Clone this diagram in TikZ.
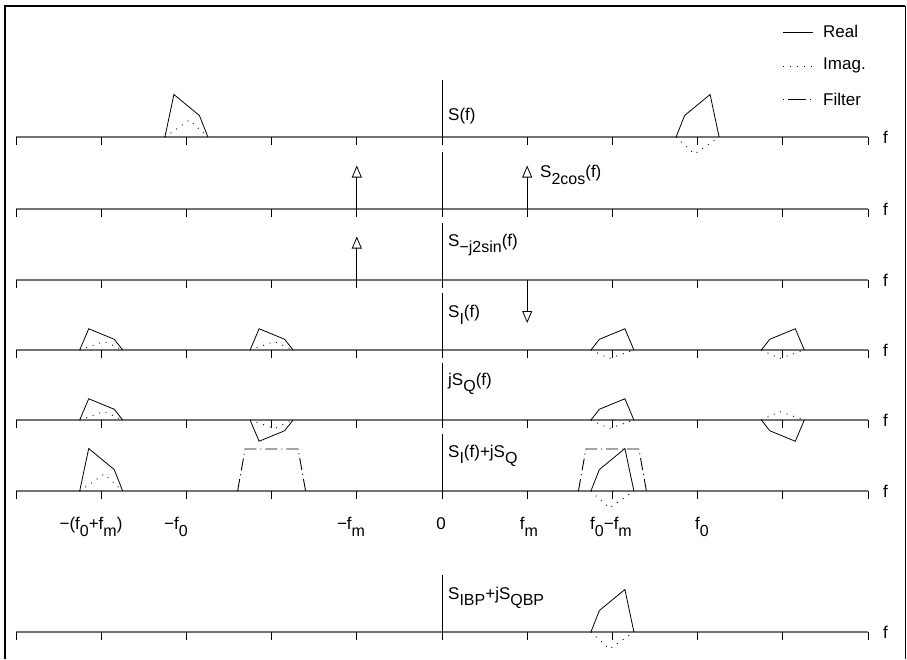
\documentclass[tikz,border=0pt]{standalone}
\usepackage{fontspec}
\setmainfont{Liberation Sans}
\usetikzlibrary{arrows.meta}
\newcommand{\sbs}[1]{\raisebox{-6.5pt}{\fontsize{16}{16}\selectfont #1}}
\newcommand{\rspec}[3]{%
  \begin{scope}[shift={(#1,#2)}, yscale=#3]
    \draw[realline] (-21.5,0) -- (-13,-21.5) -- (12.5,-42.5) -- (21.5,0);
    \draw[imagline] (-21.5,0) -- (-3,17) -- (21.5,0);
  \end{scope}}
\newcommand{\lspec}[3]{%
  \begin{scope}[shift={(#1,#2)}, yscale=#3]
    \draw[realline] (-21.5,0) -- (-12.5,-42.5) -- (13,-21.5) -- (21.5,0);
    \draw[imagline] (-21.5,0) -- (3,-17) -- (21.5,0);
  \end{scope}}
\newcommand{\filt}[2]{%
  \draw[filterline] (#1-34,#2) -- (#1-26.5,#2-42) -- (#1+26.5,#2-42) -- (#1+34,#2);}
\begin{document}
\begin{tikzpicture}[x=1pt,y=-1pt,
  font=\fontsize{17}{19}\selectfont,
  axisline/.style={draw=black!55, line width=1.2pt},
  tickline/.style={draw=black, line width=0.9pt},
  realline/.style={draw=black, line width=0.8pt},
  imagline/.style={draw=black, line width=0.9pt, dash pattern=on 0.9pt off 6pt},
  filterline/.style={draw=black, line width=0.9pt, dash pattern=on 12pt off 4pt on 1pt off 4pt},
  delta/.style={draw=black, line width=0.8pt, -{Triangle[open,length=12pt,width=10pt]}},
  lbl/.style={anchor=west, inner sep=0pt},
  tlbl/.style={anchor=center, inner sep=0pt}]
\useasboundingbox (0,0) rectangle (907,659);
% frame
\draw[line width=2.2pt] (5,659) -- (5,6) -- (905,6);
\draw[line width=1pt] (905,6) -- (905,659);
% axes
\foreach \yy [count=\r] in {137,209,280,350,420,491,632} {
  \draw[axisline] (16,\yy) -- (868,\yy);
  \foreach \k in {0,...,10} \draw[tickline] ({16+85.2*\k},\yy) -- ++(0,8);
  \draw[tickline] (442,\yy) -- ++(0,-57);
  \node[lbl] (fl\r) at (883,\yy) {f};
}
% legend
\coordinate (lra) at (783,32); \coordinate (lrb) at (813,32);
\coordinate (lia) at (783,66); \coordinate (lib) at (813,66);
\coordinate (lfa) at (783,99); \coordinate (lfb) at (813,99);
\draw[realline] (lra) -- (lrb);
\draw[imagline] (lia) -- (lib);
\draw[filterline, dash pattern=on 1pt off 4pt on 18pt off 4pt on 1pt off 5pt] (lfa) -- (lfb);
\node[lbl] (lreal) at (823,31) {Real};
\node[lbl] (limag) at (823,65) {Imag.};
\node[lbl] (lfilt) at (823,99) {Filter};
% row labels
\node[lbl] (t1) at (448,116) {S(f)};
\node[lbl] (t2) at (540,175) {S\sbs{2cos}(f)};
\node[lbl] (t3) at (448,245) {S\sbs{−j2sin}(f)};
\node[lbl] (t4) at (448,315) {S\sbs{I}(f)};
\node[lbl] (t5) at (448,384) {jS\sbs{Q}(f)};
\node[lbl] (t6) at (448,456) {S\sbs{I}(f)+jS\sbs{Q}};
\node[lbl] (t7) at (448,598) {S\sbs{IBP}+jS\sbs{QBP}};
% frequency labels
\node[tlbl] (x1) at (91,527) {−(f\sbs{0}+f\sbs{m})};
\node[tlbl] (x2) at (176,527) {−f\sbs{0}};
\node[tlbl] (x3) at (351,527) {−f\sbs{m}};
\node[tlbl] (x4) at (441,524) {0};
\node[tlbl] (x5) at (529,527) {f\sbs{m}};
\node[tlbl] (x6) at (611,527) {f\sbs{0}−f\sbs{m}};
\node[tlbl] (x7) at (702,527) {f\sbs{0}};
% deltas
\coordinate (d2a) at (356.8,209); \coordinate (d2at) at (356.8,165.5);
\coordinate (d2b) at (527.2,209); \coordinate (d2bt) at (527.2,165.5);
\coordinate (d3a) at (356.8,280); \coordinate (d3at) at (356.8,236.5);
\coordinate (d3b) at (527.2,280); \coordinate (d3bt) at (527.2,323);
\draw[delta] (d2a) -- (d2at);
\draw[delta] (d2b) -- (d2bt);
\draw[delta] (d3a) -- (d3at);
\draw[delta] (d3b) -- (d3bt);
% spectra
\lspec{186.4}{137}{1}
\rspec{697.6}{137}{1}
\lspec{101.2}{350}{0.5}
\lspec{271.6}{350}{0.5}
\rspec{612.4}{350}{0.5}
\rspec{782.8}{350}{0.5}
\lspec{101.2}{420}{0.5}
\lspec{271.6}{420}{-0.5}
\rspec{612.4}{420}{0.5}
\rspec{782.8}{420}{-0.5}
\lspec{101.2}{491}{1}
\rspec{612.4}{491}{1}
\filt{271.6}{491}
\filt{612.4}{491}
\rspec{612.4}{632}{1}
\end{tikzpicture}
\end{document}
